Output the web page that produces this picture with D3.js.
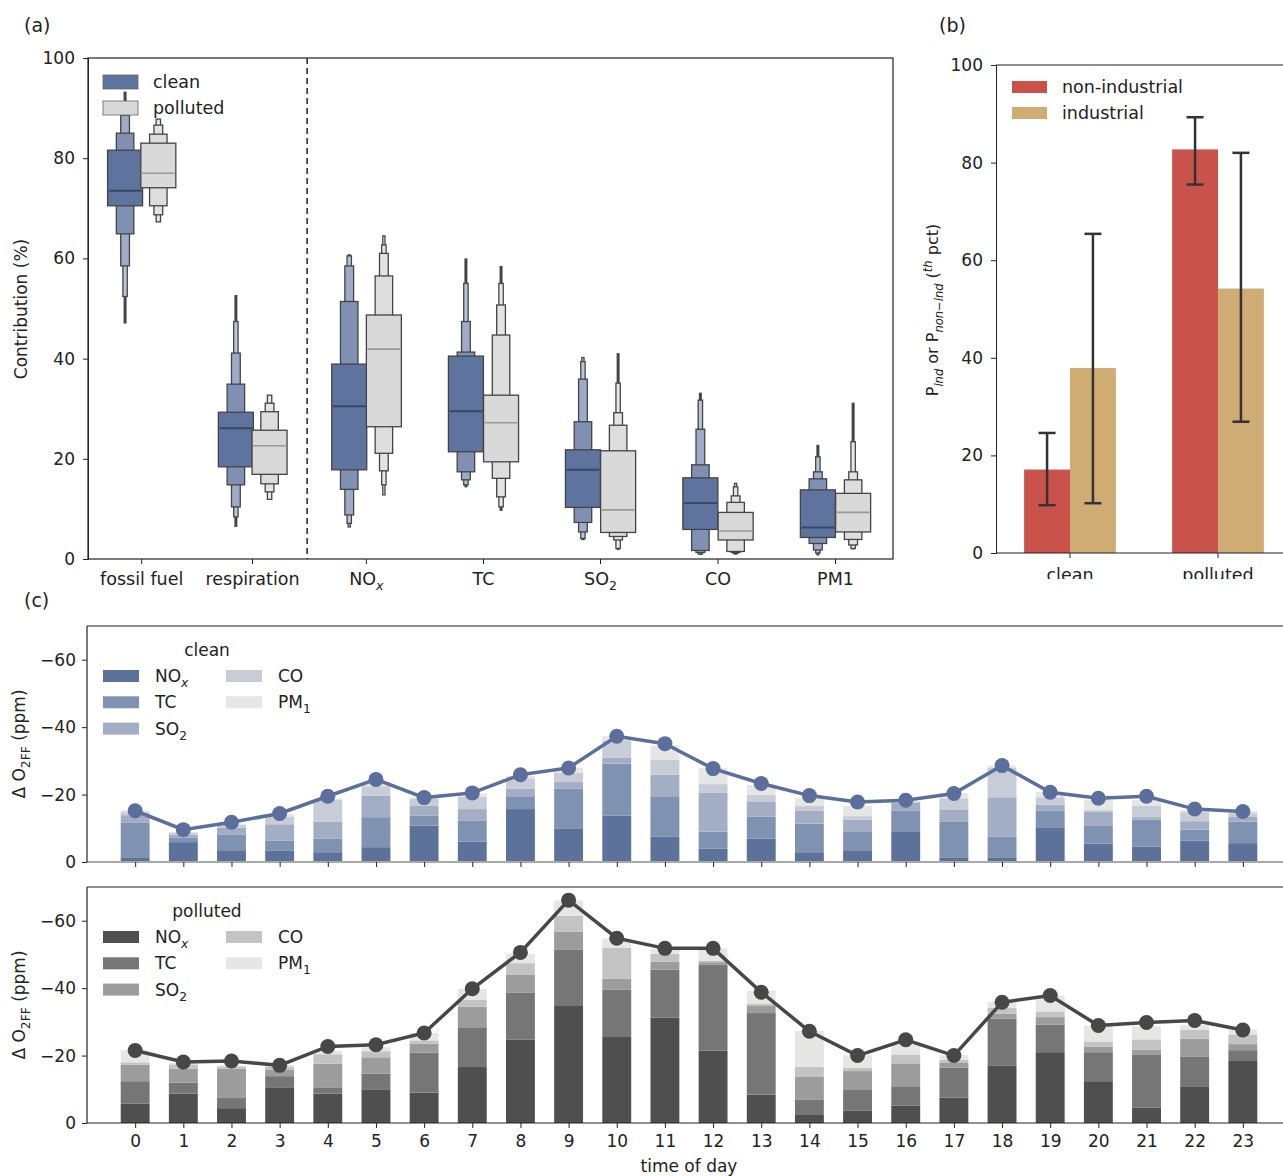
<!DOCTYPE html>
<html>
<head>
<meta charset="utf-8">
<script src="https://cdn.jsdelivr.net/npm/d3@7"></script>
<style>
  body { margin: 0; background: #fff; }
  text { font-family: "DejaVu Sans", sans-serif; fill: #222; }
</style>
</head>
<body>
<svg id="fig" width="1283" height="1176"></svg>
<script>
// ---------- panel (a): boxen plot, contribution (%) ----------
const boxCats = ["fossil fuel", "respiration", "NOx", "TC", "SO2", "CO", "PM1"];
const aTicks = [0, 20, 40, 60, 80, 100];

// letter-value levels, innermost first: [low, high]
const cleanLevels = [
  [[70.5, 81.6], [64.9, 85.0], [58.5, 88.6], [52.4, 90.0]],
  [[18.4, 29.3], [14.8, 34.9], [10.4, 41.1], [8.4, 47.4]],
  [[17.8, 38.9], [13.9, 51.4], [8.8, 58.5], [7.1, 60.5], [6.4, 60.7]],
  [[21.4, 40.5], [17.4, 41.3], [15.8, 47.4], [14.8, 55.0]],
  [[10.3, 21.8], [7.3, 27.4], [5.4, 35.9], [4.1, 39.4], [3.9, 40.2]],
  [[5.9, 16.2], [1.7, 18.8], [1.3, 25.9], [1.0, 31.7]],
  [[4.3, 13.8], [3.1, 16.0], [1.8, 17.4], [1.2, 20.4]]
];
const cleanMedian = [73.5, 26.1, 30.5, 29.5, 17.8, 11.2, 6.3];
const cleanTail = [[47.0, 93.3], [6.4, 52.7], null, [14.3, 60.0], null, [0.8, 33.2], [0.7, 22.8]];

const pollutedLevels = [
  [[74.1, 83.0], [70.5, 84.8], [68.7, 86.6], [67.3, 87.8]],
  [[16.9, 25.7], [15.0, 29.4], [13.4, 31.1], [11.9, 32.7]],
  [[26.4, 48.7], [21.1, 56.5], [17.6, 61.0], [14.8, 62.7], [12.8, 64.5]],
  [[19.4, 32.7], [16.1, 44.7], [12.4, 50.7], [10.4, 55.0]],
  [[5.3, 21.6], [4.5, 26.7], [3.8, 29.2], [2.1, 35.1]],
  [[3.8, 9.3], [1.5, 11.3], [1.3, 12.6], [1.1, 14.4], [1.0, 15.1]],
  [[5.4, 13.1], [3.9, 15.8], [2.8, 17.4], [2.1, 23.4]]
];
const pollutedMedian = [77.0, 22.6, 41.9, 27.2, 9.8, 5.6, 9.3];
const pollutedTail = [null, null, null, [9.6, 58.5], [1.8, 41.1], null, [1.9, 31.2]];

// ---------- panel (b): bars with error bars ----------
const bCats = ["clean", "polluted"];
const bTicks = [0, 20, 40, 60, 80, 100];
const nonIndustrial = [17.1, 82.7];
const nonIndustrialErr = [[9.8, 24.6], [75.5, 89.3]];
const industrial = [37.9, 54.2];
const industrialErr = [[10.2, 65.4], [26.9, 82.0]];

// ---------- panel (c): hourly stacked bars, Δ O2FF (ppm) ----------
const hours = d3.range(24);
const cTicks = [0, -20, -40, -60];
const species = ["NOx", "TC", "SO2", "CO", "PM1"];

const cleanNOx = [-1.2, -5.9, -3.5, -3.3, -2.9, -4.4, -10.8, -6.1, -15.7, -10.0, -13.8, -7.6, -4.0, -7.0, -2.9, -3.5, -8.9, -1.4, -1.2, -10.3, -5.5, -4.5, -6.3, -5.6];
const cleanTC = [-10.4, -1.4, -4.7, -3.1, -4.1, -8.9, -3.0, -6.1, -3.8, -11.8, -15.4, -11.9, -5.0, -6.5, -8.5, -5.4, -6.4, -10.5, -6.4, -5.0, -5.2, -8.1, -3.3, -6.4];
const cleanSO2 = [-2.3, -0.8, -2.0, -4.8, -4.9, -6.4, -2.8, -3.5, -2.3, -1.9, -1.7, -6.4, -11.6, -4.3, -3.9, -3.6, -2.2, -3.7, -11.6, -1.7, -4.3, -0.7, -2.5, -1.5];
const cleanCO = [-0.9, -0.5, -0.8, -2.3, -6.5, -2.8, -2.2, -3.6, -3.0, -2.8, -5.2, -4.5, -2.5, -2.2, -1.3, -1.1, -0.3, -3.3, -8.7, -2.2, -0.5, -3.3, -2.7, -1.0];
const cleanPM1 = [-0.5, -0.3, -0.4, -0.7, -0.4, -1.2, -0.4, -1.0, -0.7, -1.5, -1.2, -4.2, -4.8, -2.8, -2.3, -3.0, -0.3, -1.5, -0.7, -1.5, -3.0, -1.8, -0.6, -0.7];
const cleanTotal = [-15.2, -9.6, -11.8, -14.4, -19.5, -24.5, -19.1, -20.5, -25.9, -27.9, -37.3, -35.1, -27.7, -23.3, -19.7, -17.8, -18.3, -20.3, -28.6, -20.7, -18.9, -19.5, -15.7, -15.0];

const pollNOx = [-5.7, -8.7, -4.4, -10.4, -8.7, -10.0, -9.0, -16.6, -24.8, -34.7, -25.5, -31.3, -21.5, -8.4, -2.6, -3.6, -5.2, -7.5, -17.1, -21.0, -12.4, -4.5, -10.7, -18.4];
const pollTC = [-6.7, -3.3, -3.0, -3.5, -1.7, -4.6, -11.9, -11.8, -13.8, -16.8, -14.0, -14.2, -25.4, -24.2, -4.4, -6.4, -5.7, -8.9, -13.8, -8.2, -8.6, -15.7, -8.9, -3.2];
const pollSO2 = [-4.9, -4.1, -8.7, -2.0, -7.2, -4.9, -2.6, -6.1, -5.3, -5.2, -3.3, -2.4, -0.8, -2.1, -6.8, -5.4, -6.8, -1.4, -1.5, -2.2, -1.7, -1.5, -5.4, -1.8];
const pollCO = [-0.7, -1.3, -0.7, -0.8, -2.8, -1.8, -1.0, -2.0, -3.5, -4.7, -9.2, -2.3, -0.5, -0.7, -2.8, -0.9, -2.6, -1.0, -1.7, -1.7, -1.5, -3.1, -2.7, -2.7];
const pollPM1 = [-3.5, -0.4, -0.3, -0.5, -1.0, -1.2, -2.2, -3.3, -2.8, -4.6, -2.7, -1.5, -3.5, -3.8, -10.7, -3.8, -2.9, -1.3, -1.8, -4.7, -4.7, -3.9, -1.3, -1.7];
const pollTotal = [-21.5, -18.1, -18.4, -17.1, -22.7, -23.2, -26.7, -39.8, -50.6, -66.1, -54.8, -51.8, -51.8, -38.8, -27.2, -20.0, -24.7, -20.0, -35.8, -37.8, -28.9, -29.8, -30.4, -27.6];

// ------------------------------------------------------------
const svg = d3.select("#fig");

// text with sub/superscripts: parts = [[text, "sub"|"sup"|null, italic]]
function rich(sel, parts, size) {
  let shift = 0;
  parts.forEach(([t, mode, it]) => {
    const ts = sel.append("tspan").text(t);
    let target = 0;
    if (mode === "sub") { target = size * 0.3; ts.attr("font-size", size * 0.72); }
    if (mode === "sup") { target = -size * 0.4; ts.attr("font-size", size * 0.72); }
    if (target !== shift) { ts.attr("dy", target - shift); shift = target; }
    if (it) ts.attr("font-style", "italic");
  });
  return sel;
}
const labelParts = {
  "NOx": [["NO"], ["x", "sub", true]],
  "SO2": [["SO"], ["2", "sub"]],
  "PM1": [["PM"], ["1", "sub"]]
};

function styleAxis(g, size) {
  g.selectAll("text").attr("font-size", size).style("fill", "#222");
  g.selectAll("line").attr("stroke", "#222");
  g.select(".domain").attr("stroke", "#222");
}

// ================= panel (a) =================
// category positions in the picture are slightly uneven, so a polylinear scale
const xa = d3.scaleLinear().domain([0, 1, 2, 3, 4, 5, 6])
  .range([141.7, 252.5, 366.3, 483.5, 600.5, 718, 835.5]);
const ya = d3.scaleLinear().domain([0, 100]).range([559, 58]);
const gA = svg.append("g");

const hues = [
  { levels: cleanLevels, med: cleanMedian, tail: cleanTail, off: -0.15,
    fills: ["#5e739d", "#7f90b2", "#9eabc6", "#bcc5d8", "#d6dce8"], medColor: "#394866", medW: 2 },
  { levels: pollutedLevels, med: pollutedMedian, tail: pollutedTail, off: 0.15,
    fills: ["#d9d9d9", "#dddddd", "#e3e3e3", "#e9e9e9", "#efefef"], medColor: "#9a9a9a", medW: 1.6 }
];
hues.forEach(h => {
  boxCats.forEach((c, i) => {
    const cx = xa(i + h.off);
    const boxW = 35;
    const t = h.tail[i];
    if (t) {
      gA.append("line").attr("x1", cx).attr("x2", cx)
        .attr("y1", ya(t[0])).attr("y2", ya(t[1]))
        .attr("stroke", "#444").attr("stroke-width", 3);
    }
    const lv = h.levels[i];
    for (let k = lv.length - 1; k >= 0; k--) {
      const w = boxW * Math.pow(0.5, k);
      gA.append("rect")
        .attr("x", cx - w / 2).attr("y", ya(lv[k][1]))
        .attr("width", w).attr("height", ya(lv[k][0]) - ya(lv[k][1]))
        .attr("fill", h.fills[k]).attr("stroke", "#444").attr("stroke-width", 1.3);
    }
    gA.append("line")
      .attr("x1", cx - boxW / 2 + 1).attr("x2", cx + boxW / 2 - 1)
      .attr("y1", ya(h.med[i])).attr("y2", ya(h.med[i]))
      .attr("stroke", h.medColor).attr("stroke-width", h.medW);
  });
});

// dashed separator
gA.append("line").attr("x1", xa(1.48)).attr("x2", xa(1.48))
  .attr("y1", ya(100)).attr("y2", ya(0))
  .attr("stroke", "#222").attr("stroke-width", 1.5).attr("stroke-dasharray", "6,4");

gA.append("rect").attr("x", 88).attr("y", 58).attr("width", 805).attr("height", 501)
  .attr("fill", "none").attr("stroke", "#222").attr("stroke-width", 1.2);

const axA = gA.append("g").attr("transform", "translate(88,0)")
  .call(d3.axisLeft(ya).tickValues(aTicks).tickSize(5).tickPadding(8));
styleAxis(axA, 17);

boxCats.forEach((c, i) => {
  gA.append("line").attr("x1", xa(i)).attr("x2", xa(i)).attr("y1", 559).attr("y2", 564)
    .attr("stroke", "#222");
  const t = gA.append("text").attr("x", xa(i)).attr("y", 585)
    .attr("text-anchor", "middle").attr("font-size", 17.5);
  rich(t, labelParts[c] && c !== "PM1" ? labelParts[c] : [[c]], 17.5);
});

gA.append("text").attr("transform", "translate(27,309) rotate(-90)")
  .attr("text-anchor", "middle").attr("font-size", 17).text("Contribution (%)");

// legend (a)
[["clean", hues[0].fills[0], 82], ["polluted", hues[1].fills[0], 108]].forEach(([n, f, y]) => {
  gA.append("rect").attr("x", 103).attr("y", y - 7).attr("width", 35).attr("height", 14)
    .attr("fill", f).attr("stroke", "#666").attr("stroke-width", 0.8);
  gA.append("text").attr("x", 153).attr("y", y).attr("dy", "0.35em")
    .attr("font-size", 17.5).text(n);
});

svg.append("text").attr("x", 24).attr("y", 32).attr("font-size", 19).text("(a)");
svg.append("text").attr("x", 939).attr("y", 32).attr("font-size", 19).text("(b)");
svg.append("text").attr("x", 24).attr("y", 607).attr("font-size", 19).text("(c)");

// ================= panel (b) =================
svg.append("defs").append("clipPath").attr("id", "clipB")
  .append("rect").attr("x", 900).attr("y", 0).attr("width", 383).attr("height", 579);
const gB = svg.append("g").attr("clip-path", "url(#clipB)");
const xb = d3.scaleLinear().domain([-0.5, 1.5]).range([996, 1292]);
const yb = d3.scaleLinear().domain([0, 100]).range([553, 65]);
const bw = 0.31;
const bSeries = [
  { vals: nonIndustrial, err: nonIndustrialErr, off: -bw, color: "#c9534b", name: "non-industrial" },
  { vals: industrial, err: industrialErr, off: 0, color: "#cfac73", name: "industrial" }
];
bSeries.forEach(s => {
  gB.selectAll(null).data(s.vals).enter().append("rect")
    .attr("x", (d, i) => xb(i + s.off)).attr("y", d => yb(d))
    .attr("width", xb(bw) - xb(0)).attr("height", d => yb(0) - yb(d))
    .attr("fill", s.color);
});
bSeries.forEach(s => {
  s.err.forEach((e, i) => {
    const cx = xb(i + s.off + bw / 2);
    gB.append("line").attr("x1", cx).attr("x2", cx).attr("y1", yb(e[0])).attr("y2", yb(e[1]))
      .attr("stroke", "#333").attr("stroke-width", 2.5);
    e.forEach(v => gB.append("line").attr("x1", cx - 8.5).attr("x2", cx + 8.5)
      .attr("y1", yb(v)).attr("y2", yb(v)).attr("stroke", "#333").attr("stroke-width", 2.5));
  });
});
gB.append("line").attr("x1", 996).attr("x2", 1283).attr("y1", 65).attr("y2", 65).attr("stroke", "#222").attr("stroke-width", 1.2);
gB.append("line").attr("x1", 996).attr("x2", 1283).attr("y1", 553).attr("y2", 553).attr("stroke", "#222").attr("stroke-width", 1.2);
const axB = gB.append("g").attr("transform", "translate(996,0)")
  .call(d3.axisLeft(yb).tickValues(bTicks).tickSize(5).tickPadding(8));
styleAxis(axB, 17);
bCats.forEach((c, i) => {
  gB.append("line").attr("x1", xb(i)).attr("x2", xb(i)).attr("y1", 553).attr("y2", 558).attr("stroke", "#222");
  gB.append("text").attr("x", xb(i)).attr("y", 581).attr("text-anchor", "middle")
    .attr("font-size", 17.5).text(c);
});
bSeries.forEach((s, k) => {
  const y = 87 + k * 26;
  gB.append("rect").attr("x", 1012).attr("y", y - 6).attr("width", 35).attr("height", 12).attr("fill", s.color);
  gB.append("text").attr("x", 1062).attr("y", y).attr("dy", "0.35em").attr("font-size", 17.5).text(s.name);
});
rich(svg.append("text").attr("transform", "translate(938,310) rotate(-90)")
  .attr("text-anchor", "middle").attr("font-size", 16),
  [["P"], ["ind", "sub", true], [" or P"], ["non\u2212ind", "sub", true], [" ("], ["th", "sup", true], [" pct)"]], 16);

// ================= panel (c) =================
const xc = d3.scaleLinear().domain([-1, 24]).range([87, 1291]);
const cPanels = [
  { y0: 862, y1: 626, cols: [cleanNOx, cleanTC, cleanSO2, cleanCO, cleanPM1], total: cleanTotal,
    colors: ["#5d7299", "#8092b2", "#a3aec4", "#c7ccd6", "#e6e7e4"], lineColor: "#5a6f9c",
    title: "clean", axisColor: "#a8a8a8", labels: false },
  { y0: 1123, y1: 887, cols: [pollNOx, pollTC, pollSO2, pollCO, pollPM1], total: pollTotal,
    colors: ["#4f4f4f", "#767676", "#9c9c9c", "#c3c3c3", "#e6e6e4"], lineColor: "#474747",
    title: "polluted", axisColor: "#222", labels: true }
];
const legendParts = { "NOx": labelParts.NOx, "TC": [["TC"]], "SO2": labelParts.SO2, "CO": [["CO"]], "PM1": labelParts.PM1 };

cPanels.forEach(p => {
  const g = svg.append("g");
  const ys = d3.scaleLinear().domain([0, -70]).range([p.y0, p.y1]);
  const rows = hours.map((h, j) => {
    const r = { hour: h };
    species.forEach((s, k) => { r[s] = p.cols[k][j]; });
    return r;
  });
  const stacked = d3.stack().keys(species)(rows);
  stacked.forEach((layer, k) => {
    g.selectAll(null).data(layer).enter().append("rect")
      .attr("x", d => xc(d.data.hour - 0.3))
      .attr("width", xc(0.6) - xc(0))
      .attr("y", d => ys(d[1]))
      .attr("height", d => ys(d[0]) - ys(d[1]))
      .attr("fill", p.colors[k]);
  });
  // axes
  g.append("line").attr("x1", 87).attr("x2", 1283).attr("y1", p.y0).attr("y2", p.y0)
    .attr("stroke", p.axisColor).attr("stroke-width", p.labels ? 1.2 : 2);
  g.append("line").attr("x1", 87).attr("x2", 1283).attr("y1", p.y1).attr("y2", p.y1)
    .attr("stroke", "#222").attr("stroke-width", 1.2);
  g.append("line").attr("x1", 87).attr("x2", 87).attr("y1", p.y1).attr("y2", p.y0)
    .attr("stroke", "#222").attr("stroke-width", 1.2);
  const ay = g.append("g").attr("transform", "translate(87,0)")
    .call(d3.axisLeft(ys).tickValues(cTicks).tickSize(5).tickPadding(6));
  ay.select(".domain").remove();
  styleAxis(ay, 17);
  const ax = g.append("g").attr("transform", `translate(0,${p.y0})`)
    .call(d3.axisBottom(xc).tickValues(hours).tickSize(5).tickPadding(7)
      .tickFormat(p.labels ? d3.format("d") : ""));
  ax.select(".domain").remove();
  styleAxis(ax, 17);

  // total line + dots
  g.append("path").datum(p.total)
    .attr("d", d3.line().x((d, j) => xc(hours[j])).y(d => ys(d)))
    .attr("fill", "none").attr("stroke", p.lineColor).attr("stroke-width", 3.5);
  g.selectAll(null).data(p.total).enter().append("circle")
    .attr("cx", (d, j) => xc(hours[j])).attr("cy", d => ys(d)).attr("r", 7.5)
    .attr("fill", p.lineColor);

  rich(g.append("text").attr("transform", `translate(25,${(p.y0 + p.y1) / 2}) rotate(-90)`)
    .attr("text-anchor", "middle").attr("font-size", 17),
    [["\u0394 O"], ["2FF", "sub"], [" (ppm)"]], 17);

  // legend
  const top = p.y1;
  g.append("text").attr("x", 207).attr("y", top + 24).attr("dy", "0.35em")
    .attr("text-anchor", "middle").attr("font-size", 17).text(p.title);
  species.forEach((s, k) => {
    const col = k < 3 ? 0 : 1;
    const row = k < 3 ? k : k - 3;
    const y = top + 50 + row * 26.3;
    const x = col === 0 ? 103 : 226;
    g.append("rect").attr("x", x).attr("y", y - 6).attr("width", 36).attr("height", 12).attr("fill", p.colors[k]);
    rich(g.append("text").attr("x", x + 52).attr("y", y).attr("dy", "0.35em").attr("font-size", 17),
      legendParts[s], 17);
  });
});

svg.append("text").attr("x", xc(11.5)).attr("y", 1172).attr("text-anchor", "middle")
  .attr("font-size", 17).text("time of day");
</script>
</body>
</html>
